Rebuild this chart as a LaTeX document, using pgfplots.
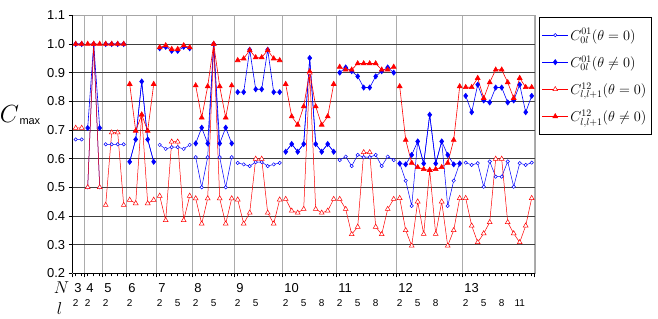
\documentclass[border=0pt]{standalone}
\usepackage{fontspec}
\setmainfont{Liberation Sans}
\usepackage{pgfplots}
\pgfplotsset{compat=1.18}
\usepackage{pgfplotstable}

\pgfplotstableread{
x ob fb or fr
0.5 0.667 1.000 0.707 1.000
1.5 0.667 1.000 0.707 1.000
2.0 nan nan nan nan
2.5 0.500 0.707 0.500 1.000
3.5 1.000 1.000 1.000 1.000
4.5 0.500 0.707 0.500 1.000
5.0 nan nan nan nan
5.5 0.650 1.000 0.438 1.000
6.5 0.650 1.000 0.691 1.000
7.5 0.650 1.000 0.691 1.000
8.5 0.650 1.000 0.438 1.000
9.0 nan nan nan nan
9.5 0.589 0.589 0.456 0.860
10.5 0.667 0.667 0.444 0.697
11.5 0.869 0.869 0.753 0.753
12.5 0.667 0.667 0.444 0.697
13.5 0.589 0.589 0.456 0.860
14.0 nan nan nan nan
14.5 0.648 0.985 0.470 0.988
15.5 0.634 0.990 0.385 0.995
16.5 0.640 0.976 0.659 0.982
17.5 0.640 0.976 0.659 0.982
18.5 0.634 0.990 0.385 0.995
19.5 0.648 0.985 0.470 0.988
20.0 nan nan nan nan
20.5 0.605 0.653 0.461 0.855
21.5 0.500 0.708 0.373 0.743
22.5 0.605 0.653 0.461 0.852
23.5 1.000 1.000 1.000 1.000
24.5 0.605 0.653 0.461 0.852
25.5 0.500 0.708 0.373 0.743
26.5 0.605 0.653 0.461 0.855
27.0 nan nan nan nan
27.5 0.585 0.832 0.457 0.943
28.5 0.580 0.832 0.373 0.949
29.5 0.574 0.980 0.411 0.978
30.5 0.588 0.842 0.599 0.953
31.5 0.588 0.842 0.599 0.953
32.5 0.574 0.980 0.411 0.978
33.5 0.580 0.832 0.373 0.949
34.5 0.585 0.832 0.457 0.943
35.0 nan nan nan nan
35.5 0.624 0.624 0.459 0.860
36.5 0.651 0.651 0.418 0.747
37.5 0.624 0.624 0.411 0.718
38.5 0.651 0.651 0.424 0.782
39.5 0.951 0.951 0.900 0.904
40.5 0.651 0.651 0.424 0.782
41.5 0.624 0.624 0.411 0.718
42.5 0.651 0.651 0.418 0.747
43.5 0.624 0.624 0.459 0.860
44.0 nan nan nan nan
44.5 0.595 0.900 0.459 0.920
45.5 0.607 0.918 0.424 0.910
46.5 0.574 0.905 0.336 0.910
47.5 0.613 0.887 0.362 0.932
48.5 0.605 0.848 0.622 0.932
49.5 0.605 0.848 0.622 0.932
50.5 0.613 0.887 0.362 0.932
51.5 0.574 0.905 0.336 0.910
52.5 0.607 0.918 0.424 0.910
53.5 0.595 0.900 0.459 0.920
54.0 nan nan nan nan
54.5 0.584 0.583 0.462 0.852
55.5 0.523 0.580 0.350 0.665
56.5 0.435 0.613 0.296 0.585
57.5 0.660 0.660 0.450 0.570
58.5 0.583 0.583 0.337 0.563
59.5 0.753 0.753 0.560 0.560
60.5 0.583 0.583 0.337 0.563
61.5 0.660 0.660 0.450 0.570
62.5 0.435 0.613 0.296 0.585
63.5 0.523 0.580 0.350 0.665
64.5 0.584 0.583 0.462 0.852
65.0 nan nan nan nan
65.5 0.586 0.819 0.462 0.849
66.5 0.578 0.762 0.366 0.849
67.5 0.584 0.858 0.308 0.881
68.5 0.502 0.803 0.339 0.811
69.5 0.590 0.796 0.378 0.866
70.5 0.537 0.848 0.599 0.910
71.5 0.537 0.848 0.599 0.910
72.5 0.590 0.796 0.378 0.866
73.5 0.502 0.803 0.339 0.811
74.5 0.584 0.858 0.308 0.881
75.5 0.578 0.762 0.366 0.849
76.5 0.586 0.819 0.462 0.849
}\data

\tikzset{
  Nlab/.style={anchor=west, inner sep=0pt, font=\fontsize{13}{15}\selectfont},
  llab/.style={inner sep=0pt, font=\fontsize{10}{12}\selectfont},
}

\begin{document}
\begin{tikzpicture}
\useasboundingbox (0,0) rectangle (658bp,319bp);
\begin{axis}[
  at={(72.7bp,45.7bp)}, anchor=south west,
  scale only axis, width=462bp, height=258bp,
  xmin=0, xmax=77, ymin=0.2, ymax=1.1,
  clip=false,
  unbounded coords=jump,
  axis line style={gray!70},
  tick pos=left, tick align=outside,
  xtick={0,2,5,9,14,20,27,35,44,54,65,77},
  xticklabels={},
  minor xtick={0.5,1.5,...,76.5},
  ytick={0.2,0.3,...,1.1},
  major tick length=4bp, minor tick length=3bp,
  major x tick style={line width=1.4bp, black},
  minor x tick style={line width=0.6bp, black},
  major y tick style={line width=0.6bp, black},
  xmajorgrids, ymajorgrids,
  x grid style={gray!65, line width=0.6bp},
  y grid style={black!75, line width=0.6bp},
  yticklabel style={font=\fontsize{13}{15}\selectfont, /pgf/number format/.cd, fixed, fixed zerofill, precision=1, assume math mode=true},
  legend style={draw=black, fill=white, at={(axis description cs:1.0093,0.992)}, anchor=north west,
    font=\fontsize{14}{16}\selectfont, inner xsep=3bp, inner ysep=9bp, row sep=10bp, cells={anchor=west}},
  legend image code/.code={\draw[mark repeat=2,mark phase=2,#1] plot coordinates {(0cm,0cm) (0.45cm,0cm) (0.9cm,0cm)};},
]
\draw[black, line width=0.8bp] (axis cs:0,0.2) -- (axis cs:0,1.1);
\draw[black, line width=0.8bp] (axis cs:0,0.2) -- (axis cs:77,0.2);
\addplot[blue, line width=0.5bp, mark=*, mark size=1.7bp, mark options={fill=white, draw=blue, line width=0.5bp}] table[x=x, y=ob] {\data};
\addlegendentry{$C^{01}_{0l}(\theta=0)$}
\addplot[blue, line width=0.6bp, mark=diamond*, mark size=2.6bp, mark options={fill=blue, draw=blue}] table[x=x, y=fb] {\data};
\addlegendentry{$C^{01}_{0l}(\theta\neq0)$}
\addplot[red, line width=0.5bp, mark=triangle*, mark size=2.8bp, mark options={fill=white, draw=red, line width=0.5bp}] table[x=x, y=or] {\data};
\addlegendentry{$C^{12}_{l,l+1}(\theta=0)$}
\addplot[red, line width=0.6bp, mark=triangle*, mark size=2.8bp, mark options={fill=red, draw=red}] table[x=x, y=fr] {\data};
\addlegendentry{$C^{12}_{l,l+1}(\theta\neq0)$}
% row labels
\node at (axis description cs:-0.114,0.6136) {{\fontsize{23}{26}\selectfont$C$}\kern0.5bp\raisebox{-1.5bp}{\fontsize{11}{13}\selectfont\rmfamily max}};
\node at (axis description cs:-0.0242,-0.057) {\fontsize{16}{18}\selectfont$N$};
\node at (axis description cs:-0.0286,-0.138) {\fontsize{17}{19}\selectfont$l$};
% N labels
\foreach \bb/\nn in {0/3,2/4,5/5,9/6,14/7,20/8,27/9,35/10,44/11,54/12,65/13}{
  \edef\tmp{\noexpand\node[Nlab] at ([yshift=-14.7bp]axis cs:\bb+0.25,0.2) {\nn};}\tmp
}
% l labels
\foreach \pp/\ll in {0.5/2,2.5/2,5.5/2,9.5/2,14.5/2,17.5/5,20.5/2,23.5/5,27.5/2,30.5/5,35.5/2,38.5/5,41.5/8,44.5/2,47.5/5,50.5/8,54.5/2,57.5/5,60.5/8,65.5/2,68.5/5,71.5/8,74.5/11}{
  \edef\tmp{\noexpand\node[llab] at ([yshift=-29.7bp]axis cs:\pp,0.2) {\ll};}\tmp
}
\end{axis}
\end{tikzpicture}
\end{document}
